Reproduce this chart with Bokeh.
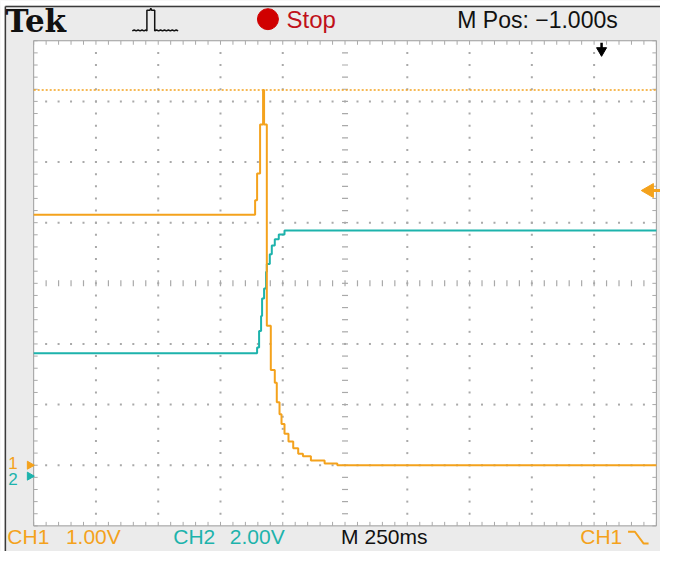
import numpy as np
from bokeh.plotting import figure
from bokeh.models import Range1d, Label
from bokeh.embed import file_html
from bokeh.resources import INLINE

# ---------------- data ----------------
sec_per_div = 0.25          # M 250ms
m_pos = -1.0                # M Pos: -1.000s
ch1_volts_per_div = 1.0     # CH1 1.00V
ch2_volts_per_div = 2.0     # CH2 2.00V
ch1_ground_div = -3.0       # CH1 ground marker, divisions from centre
ch2_ground_div = -3.18      # CH2 ground marker, divisions from centre

# CH1 (orange), seconds / volts, stair-step samples
ch1_t = [-2.25, -1.361, -1.353, -1.341, -1.329, -1.325, -1.314, -1.298, -1.282,
         -1.274, -1.263, -1.255, -1.243, -1.227, -1.208, -1.188, -1.169, -1.137,
         -1.082, -1.031, 0.25]
ch1_v = [4.13, 4.37, 4.81, 5.62, 6.19, 5.62, 2.30, 1.57, 1.36,
         1.04, 0.84, 0.68, 0.52, 0.39, 0.28, 0.19, 0.15, 0.08,
         0.03, 0.0, 0.0]

# CH2 (teal), seconds / volts
ch2_t = [-2.25, -1.353, -1.345, -1.337, -1.333, -1.325, -1.317, -1.314, -1.302,
         -1.294, -1.282, -1.266, -1.243, 0.25]
ch2_v = [4.05, 4.24, 4.79, 5.28, 5.86, 6.19, 6.74, 7.00, 7.32,
         7.61, 7.81, 7.97, 8.10, 8.10]

cursor_v = 6.19         # orange dotted level (CH1 volts)
trig_level_v = 4.53     # trigger level arrow (CH1 volts)
trig_pos_t = 0.03       # trigger position arrow (s)

brand = "Tek"
run_state = "Stop"
mpos_text = "M Pos: \u22121.000s"
footer_ch1 = ["CH1", "1.00V"]
footer_ch2 = ["CH2", "2.00V"]
footer_time = "M 250ms"
footer_trig = "CH1"

ORANGE = "#F4A21C"
TEAL = "#1DB3AC"
GRID = "#a9a9a9"
BG = "#ebebeb"

# ---------------- layout ----------------
W, H = 660, 551
SX, SY = 0.976, 0.982          # reference px -> figure px
GX0, GX1 = 34 * SX, 672 * SX   # graticule left/right (figure px)
GY0, GY1 = 41 * SY, 535 * SY   # graticule top/bottom (figure px from top)
PXD = (GX1 - GX0) / 10.0
PYD = (GY1 - GY0) / 8.0

t_left = m_pos - 5 * sec_per_div
t_right = m_pos + 5 * sec_per_div
x_start = t_left - GX0 / PXD * sec_per_div
x_end = t_right + (W - GX1) / PXD * sec_per_div

v_bot = (-4 - ch1_ground_div) * ch1_volts_per_div
v_top = (4 - ch1_ground_div) * ch1_volts_per_div
y_end = v_top + GY0 / PYD * ch1_volts_per_div
y_start = v_bot - (H - GY1) / PYD * ch1_volts_per_div

v2_bot = (-4 - ch2_ground_div) * ch2_volts_per_div
v2_top = (4 - ch2_ground_div) * ch2_volts_per_div
y2_end = v2_top + GY0 / PYD * ch2_volts_per_div
y2_start = v2_bot - (H - GY1) / PYD * ch2_volts_per_div


def X(px_ref):
    return x_start + px_ref * SX / PXD * sec_per_div


def Y(py_ref):
    return y_end - py_ref * SY / PYD * ch1_volts_per_div


def TB(py_ref, size):
    # text baseline position (reference px), with renderer baseline correction
    return Y(py_ref - 0.36 * size / SY)


dxp = sec_per_div / PXD
dyp = ch1_volts_per_div / PYD

p = figure(width=W, height=H, x_range=Range1d(x_start, x_end),
           y_range=Range1d(y_start, y_end), min_border=0,
           toolbar_location=None, output_backend="svg",
           x_axis_location=None, y_axis_location=None,
           background_fill_color=BG, border_fill_color=BG,
           outline_line_color=None)
p.grid.visible = False
p.extra_y_ranges = {"ch2": Range1d(y2_start, y2_end)}

# white page edge + dark border (top, left)
p.quad(left=[x_start, x_start], right=[X(4), x_end], bottom=[y_start, Y(5)],
       top=[y_end, y_end], fill_color="white", line_color=None)
p.segment(x0=[X(5), X(5)], x1=[x_end, X(5)], y0=[Y(6), Y(6)], y1=[Y(6), y_start],
          line_color="#3a3a3a", line_width=1.5)

# screen
p.quad(left=[t_left], right=[t_right], bottom=[v_bot], top=[v_top],
       fill_color="white", line_color="#9c9c9c", line_width=1)

# graticule
xs_major = np.linspace(t_left, t_right, 11)
ys_major = np.linspace(v_bot, v_top, 9)
xs_minor = np.linspace(t_left, t_right, 51)
ys_minor = np.linspace(v_bot, v_top, 41)
t_c = (t_left + t_right) / 2
v_c = (v_bot + v_top) / 2

dx, dy = [], []
for xm in xs_major[1:-1]:
    if abs(xm - t_c) < 1e-9:
        continue
    dx += [xm] * (len(ys_minor) - 2)
    dy += list(ys_minor[1:-1])
for ym in ys_major[1:-1]:
    if abs(ym - v_c) < 1e-9:
        continue
    dx += list(xs_minor[1:-1])
    dy += [ym] * (len(xs_minor) - 2)
p.scatter(dx, dy, marker="square", size=2, fill_color=GRID, line_color=None)

# centre cross ticks
p.scatter(xs_minor[1:-1], [v_c] * (len(xs_minor) - 2), marker="dash", size=6,
          angle=np.pi / 2, line_color=GRID, line_width=1.2)
p.scatter([t_c] * (len(ys_minor) - 2), ys_minor[1:-1], marker="dash", size=6,
          line_color=GRID, line_width=1.2)
# edge ticks
p.scatter(xs_minor, [v_top - 2 * dyp] * len(xs_minor), marker="dash", size=4,
          angle=np.pi / 2, line_color=GRID, line_width=1)
p.scatter(xs_minor, [v_bot + 2 * dyp] * len(xs_minor), marker="dash", size=4,
          angle=np.pi / 2, line_color=GRID, line_width=1)
p.scatter([t_left + 2 * dxp] * len(ys_minor), ys_minor, marker="dash", size=4,
          line_color=GRID, line_width=1)
p.scatter([t_right - 2 * dxp] * len(ys_minor), ys_minor, marker="dash", size=4,
          line_color=GRID, line_width=1)

# cursor dotted line
p.segment(x0=[t_left], x1=[t_right], y0=[cursor_v], y1=[cursor_v],
          line_color=ORANGE, line_width=1.5, line_dash="2 2")

# traces
p.step(ch2_t, ch2_v, mode="after", line_color=TEAL, line_width=2,
       y_range_name="ch2")
p.step(ch1_t, ch1_v, mode="after", line_color=ORANGE, line_width=2)

# ground markers
ch1_gnd_v = 0.0
ch2_gnd_v = 0.0
p.segment(x0=[t_left - 6 * dxp], x1=[t_left], y0=[ch1_gnd_v], y1=[ch1_gnd_v],
          line_color=ORANGE, line_width=2)
p.scatter([t_left - 4 * dxp], [ch1_gnd_v], marker="triangle", angle=-np.pi / 2,
          size=8, fill_color=ORANGE, line_color=ORANGE)
p.segment(x0=[t_left - 6 * dxp], x1=[t_left], y0=[ch2_gnd_v], y1=[ch2_gnd_v],
          line_color=TEAL, line_width=2, y_range_name="ch2")
p.scatter([t_left - 4 * dxp], [ch2_gnd_v], marker="triangle", angle=-np.pi / 2,
          size=8, fill_color=TEAL, line_color=TEAL, y_range_name="ch2")
p.add_layout(Label(x=X(8), y=ch1_gnd_v, text="1", text_color=ORANGE,
                   text_font="Liberation Sans", text_font_size="17px",
                   text_baseline="middle", y_offset=2))
p.add_layout(Label(x=X(8), y=ch2_gnd_v, text="2", text_color=TEAL,
                   text_font="Liberation Sans", text_font_size="17px",
                   text_baseline="middle", y_range_name="ch2", y_offset=-3))

# trigger level arrow (right)
p.segment(x0=[t_right - 6 * dxp], x1=[x_end], y0=[trig_level_v], y1=[trig_level_v],
          line_color=ORANGE, line_width=3)
p.scatter([t_right - 7 * dxp], [trig_level_v], marker="triangle", angle=np.pi / 2,
          size=14, fill_color=ORANGE, line_color=ORANGE)

# trigger position arrow (top)
p.segment(x0=[trig_pos_t], x1=[trig_pos_t], y0=[Y(43)], y1=[Y(49)],
          line_color="black", line_width=2.5)
p.scatter([trig_pos_t], [Y(51)], marker="inverted_triangle", size=10,
          fill_color="black", line_color="black")

# header
p.add_layout(Label(x=X(5), y=TB(32, 31), text=brand, text_font="DejaVu Serif",
                   text_font_style="bold", text_font_size="31px",
                   text_color="#111111", text_baseline="alphabetic"))
icon_px = [135, 137, 139, 141, 143, 145, 147, 149, 150, 150, 153, 154, 155, 157,
           158, 158, 160, 162, 164, 166, 168, 170, 172, 174, 176, 178, 180, 182]
icon_py = [31, 30, 31, 30, 31, 30, 31, 30, 31, 10, 10, 8, 10, 10,
           10, 31, 30, 31, 30, 31, 30, 31, 30, 31, 30, 31, 30, 31]
p.line([X(v) for v in icon_px], [Y(v) for v in icon_py], line_color="#111111",
       line_width=1.5)
p.scatter([X(274)], [Y(19)], marker="circle", size=21,
          fill_color="#D00000", line_color="#D00000")
p.add_layout(Label(x=X(293), y=TB(28, 24), text=run_state, text_font="Liberation Sans",
                   text_font_size="24px", text_color="#C0101A",
                   text_baseline="alphabetic"))
p.add_layout(Label(x=X(468), y=TB(28, 23), text=mpos_text, text_font="Liberation Sans",
                   text_font_size="23px", text_color="#111111",
                   text_baseline="alphabetic"))

# footer
fb = TB(554, 21)
for txt, xp, col in [(footer_ch1[0], 7, ORANGE), (footer_ch1[1], 67, ORANGE),
                     (footer_ch2[0], 177, TEAL), (footer_ch2[1], 235, TEAL),
                     (footer_time, 349, "#111111"), (footer_trig, 594, ORANGE)]:
    p.add_layout(Label(x=X(xp), y=fb, text=txt, text_font="Liberation Sans",
                       text_font_size="21px", text_color=col,
                       text_baseline="alphabetic"))
p.line([X(643), X(650), X(659), X(664)], [Y(541), Y(541), Y(553), Y(553)],
       line_color=ORANGE, line_width=2)

open("out.html", "w").write(file_html(p, INLINE))
